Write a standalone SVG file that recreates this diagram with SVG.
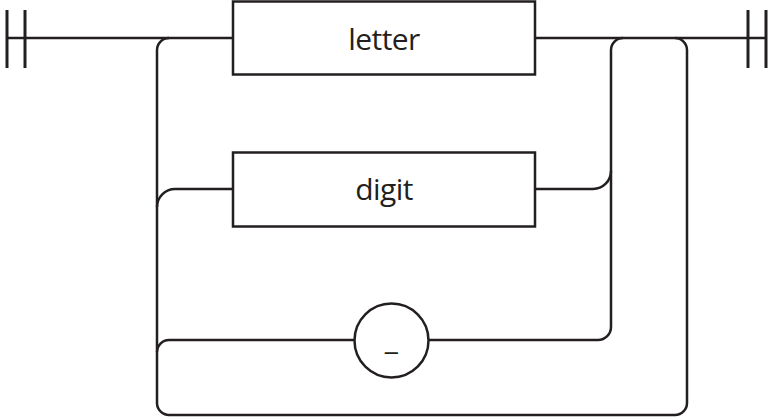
<svg xmlns="http://www.w3.org/2000/svg" width="768" height="418" viewBox="0 0 768 418">
<style>
.ln{fill:none;stroke:#231f20;stroke-width:2.5;stroke-linecap:butt}
.bar{fill:none;stroke:#231f20;stroke-width:3}
.box{fill:#fff;stroke:#231f20;stroke-width:2.5}
.lbl{font-family:"Open Sans","Noto Sans",sans-serif;font-size:30px;letter-spacing:-0.6px;fill:#231f20;text-anchor:middle}
</style>
<rect width="768" height="418" fill="#fff"/>
<g id="connectors">
<path class="ln" d="M7 38 H766"/>
<path class="ln" d="M169 38 A12 12 0 0 0 157 50 V403 A12 12 0 0 0 169 415 H675 A12 12 0 0 0 687 403 V50 A12 12 0 0 0 675 38"/>
<path class="ln" d="M623 38 A12 12 0 0 0 611 50 V327 A13 13 0 0 1 598 340 H429"/>
<path class="ln" d="M233 189 H175 A18 18 0 0 0 157 207"/>
<path class="ln" d="M535 189 H593 A18 18 0 0 0 611 171"/>
<path class="ln" d="M354 340 H169 A12 12 0 0 0 157 352"/>
</g>
<g id="start">
<line class="bar" x1="7" y1="10" x2="7" y2="68"/>
<line class="bar" x1="25" y1="10" x2="25" y2="68"/>
</g>
<g id="end">
<line class="bar" x1="748" y1="10" x2="748" y2="68"/>
<line class="bar" x1="766" y1="10" x2="766" y2="68"/>
</g>
<g id="letter">
<rect class="box" x="233" y="1.5" width="302" height="73"/>
<text class="lbl" x="384" y="50">letter</text>
</g>
<g id="digit">
<rect class="box" x="233" y="152.5" width="302" height="74"/>
<text class="lbl" x="384" y="200">digit</text>
</g>
<g id="underscore">
<circle class="box" cx="391.5" cy="340.5" r="37"/>
<text class="lbl" x="391" y="350">_</text>
</g>
</svg>
